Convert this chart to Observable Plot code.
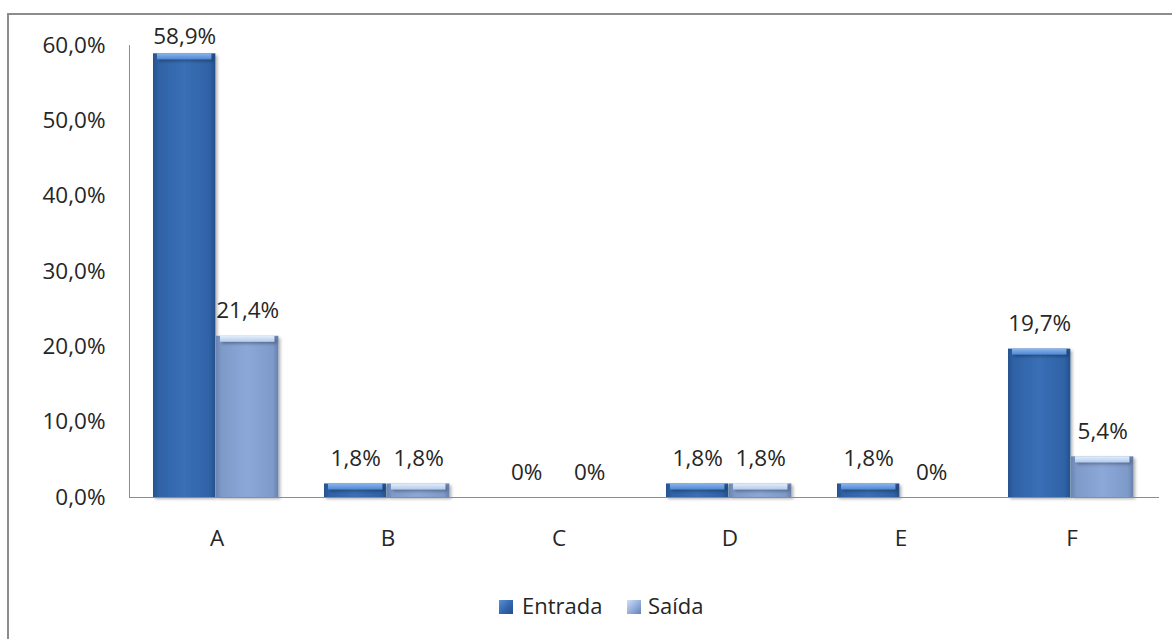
<!DOCTYPE html>
<html>
<head>
<meta charset="utf-8">
<script src="https://cdn.jsdelivr.net/npm/d3@7"></script>
<script src="https://cdn.jsdelivr.net/npm/@observablehq/plot@0.6"></script>
<style>
  html, body { margin: 0; padding: 0; background: #fff; overflow: hidden; }
  #page { position: relative; width: 1172px; height: 639px; overflow: hidden; font-family: "Open Sans", sans-serif; }
  #border { position: absolute; left: 7px; top: 13px; width: 1200px; height: 700px; border: 2px solid #8c8c8c; box-sizing: border-box; }
  #chart { position: absolute; left: 0; top: 0; }
  #legend { position: absolute; top: 594px; left: 0; width: 1172px; height: 26px; color: #262626; font-size: 22px; }
  .sw { position: absolute; top: 6px; width: 14px; height: 14px; box-sizing: border-box; }
  .lt { position: absolute; top: -2px; line-height: 26px; }
</style>
</head>
<body>
<svg width="0" height="0" style="position:absolute">
  <defs>
    <linearGradient id="bodyEntrada" x1="0" x2="1" y1="0" y2="0">
      <stop offset="0" stop-color="#27528e"/>
      <stop offset="0.09" stop-color="#2f62a6"/>
      <stop offset="0.5" stop-color="#3a6fb6"/>
      <stop offset="0.91" stop-color="#2f62a6"/>
      <stop offset="1" stop-color="#25508a"/>
    </linearGradient>
    <linearGradient id="bodySaida" x1="0" x2="1" y1="0" y2="0">
      <stop offset="0" stop-color="#6b84b2"/>
      <stop offset="0.09" stop-color="#7e9ac9"/>
      <stop offset="0.5" stop-color="#8ca8d8"/>
      <stop offset="0.91" stop-color="#7e9ac9"/>
      <stop offset="1" stop-color="#6880ad"/>
    </linearGradient>
    <linearGradient id="topEntrada" x1="0" x2="0" y1="0" y2="1">
      <stop offset="0" stop-color="#8ab6ee"/>
      <stop offset="1" stop-color="#4f88d2"/>
    </linearGradient>
    <linearGradient id="topSaida" x1="0" x2="0" y1="0" y2="1">
      <stop offset="0" stop-color="#e2eefc"/>
      <stop offset="1" stop-color="#b4cbec"/>
    </linearGradient>
    <filter id="barShadow" x="-20%" y="-20%" width="140%" height="140%">
      <feDropShadow dx="2" dy="2" stdDeviation="1.5" flood-color="#000" flood-opacity="0.3"/>
    </filter>
  </defs>
</svg>
<div id="page">
  <div id="border"></div>
  <div id="chart"></div>
  <div id="legend">
    <div class="sw" style="left:499px;background:linear-gradient(135deg,#5b8fd6,#2f62a6 60%,#25508a);"></div>
    <div class="lt" style="left:522px;">Entrada</div>
    <div class="sw" style="left:627px;background:linear-gradient(135deg,#cfe0f8,#8ca8d8 60%,#6880ad);"></div>
    <div class="lt" style="left:648px;">Saída</div>
  </div>
</div>
<script>
// Categories and the two series (percentages)
const categories = ["A", "B", "C", "D", "E", "F"];
const entrada = [58.9, 1.8, 0, 1.8, 1.8, 19.7];
const saida = [21.4, 1.8, 0, 1.8, 0, 5.4];
const yTicks = [0, 10, 20, 30, 40, 50, 60];

const rows = [
  ...categories.map((c, i) => ({cat: c, serie: "Entrada", v: entrada[i]})),
  ...categories.map((c, i) => ({cat: c, serie: "Saída", v: saida[i]}))
];
const ent = rows.filter(d => d.serie === "Entrada");
const sai = rows.filter(d => d.serie === "Saída");

const fmtTick = d => d.toFixed(1).replace(".", ",") + "%";
const fmtLabel = d => d === 0 ? "0%" : d.toFixed(1).replace(".", ",") + "%";

const W = 1172, H = 580;
const mL = 129, mR = 13;
const band = (W - mL - mR) / categories.length;
const barW = 63, gapL = 22;
// insets that place the two bars side by side inside each category band
const insE = {insetLeft: gapL, insetRight: band - gapL - barW};
const insS = {insetLeft: gapL + barW, insetRight: band - gapL - 2 * barW};
const offE = gapL + barW / 2 - band / 2;
const offS = gapL + 1.5 * barW - band / 2;

const FS = 22.5;
const textStyle = {fontSize: FS, fill: "#262626"};

const chart = Plot.plot({
  width: W,
  height: H,
  marginLeft: mL,
  marginRight: mR,
  marginTop: 45,
  marginBottom: 83,
  style: {fontFamily: "'Open Sans', sans-serif", fontSize: FS + "px", color: "#262626", background: "transparent"},
  x: {domain: categories, padding: 0, label: null},
  y: {domain: [0, 60], label: null},
  marks: [
    Plot.axisY({ticks: yTicks, tickFormat: fmtTick, tickSize: 0, tickPadding: 24, fontSize: FS}),
    Plot.axisX({tickSize: 0, tickPadding: 33, fontSize: FS}),
    Plot.frame({anchor: "left", stroke: "#8c8c8c"}),
    Plot.barY(ent, {x: "cat", y: "v", fill: "url(#bodyEntrada)", ...insE}),
    Plot.barY(sai, {x: "cat", y: "v", fill: "url(#bodySaida)", ...insS}),
    Plot.barY(ent.filter(d => d.v > 0), {x: "cat", y1: "v", y2: "v", insetBottom: -6, fill: "url(#topEntrada)", insetLeft: insE.insetLeft + 4, insetRight: insE.insetRight + 4}),
    Plot.barY(sai.filter(d => d.v > 0), {x: "cat", y1: "v", y2: "v", insetBottom: -6, fill: "url(#topSaida)", insetLeft: insS.insetLeft + 4, insetRight: insS.insetRight + 4}),
    Plot.ruleY([0], {stroke: "#8c8c8c"}),
    Plot.text(ent.filter(d => d.v < 50), {x: "cat", y: "v", text: d => fmtLabel(d.v), dx: offE, dy: -25, ...textStyle}),
    Plot.text(ent.filter(d => d.v >= 50), {x: "cat", y: "v", text: d => fmtLabel(d.v), dx: offE, dy: -17, ...textStyle}),
    Plot.text(sai, {x: "cat", y: "v", text: d => fmtLabel(d.v), dx: offS, dy: -25, ...textStyle})
  ]
});

d3.select(chart).selectAll("g[aria-label='bar']").attr("filter", "url(#barShadow)");
document.getElementById("chart").appendChild(chart);
</script>
</body>
</html>
